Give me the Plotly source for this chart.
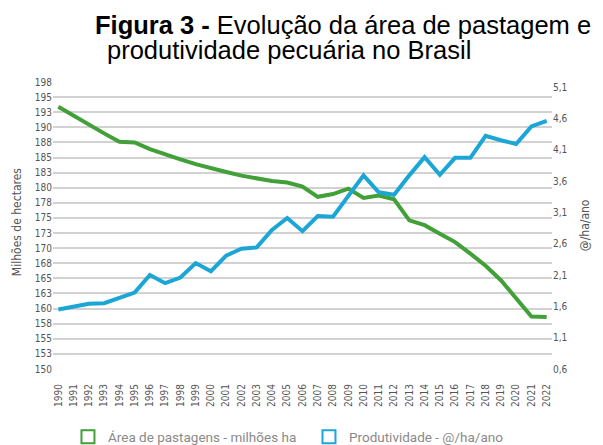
import plotly.graph_objects as go

years = [1990, 1991, 1992, 1993, 1994, 1995, 1996, 1997, 1998, 1999, 2000,
         2001, 2002, 2003, 2004, 2005, 2006, 2007, 2008, 2009, 2010, 2011,
         2012, 2013, 2014, 2015, 2016, 2017, 2018, 2019, 2020, 2021, 2022]
year_labels = [str(y) for y in years]

area = [193.4, 191.9, 190.4, 189.0, 187.6, 187.5, 186.4, 185.5, 184.7, 183.9, 183.2,
        182.6, 182.0, 181.5, 181.1, 180.85, 180.2, 178.5, 178.95, 179.85, 178.3, 178.7,
        178.1, 174.6, 173.8, 172.4, 171.0, 169.1, 167.1, 164.7, 161.6, 158.7, 158.6]

prod = [1.55, 1.60, 1.64, 1.65, 1.74, 1.82, 2.10, 1.97, 2.06, 2.29, 2.16,
        2.41, 2.52, 2.54, 2.82, 3.01, 2.80, 3.04, 3.03, 3.35, 3.69, 3.42,
        3.38, 3.69, 3.98, 3.70, 3.97, 3.97, 4.32, 4.25, 4.19, 4.47, 4.56]

left_tickvals = [150, 152.5, 155, 157.5, 160, 162.5, 165, 167.5, 170, 172.5,
                 175, 177.5, 180, 182.5, 185, 187.5, 190, 192.5, 195, 197.5]
left_ticktext = ["150", "153", "155", "158", "160", "163", "165", "168", "170", "173",
                 "175", "178", "180", "183", "185", "188", "190", "193", "195", "198"]

right_tickvals = [0.6, 1.1, 1.6, 2.1, 2.6, 3.1, 3.6, 4.1, 4.6, 5.1]
right_ticktext = ["0,6", "1,1", "1,6", "2,1", "2,6", "3,1", "3,6", "4,1", "4,6", "5,1"]

GREEN = "#41a037"
BLUE = "#1ba6d6"
COND = "DejaVu Sans Condensed, Liberation Sans Narrow, Roboto"
TICKFONT = dict(family=COND, size=10, color="#555555")

fig = go.Figure()
fig.add_trace(go.Scatter(x=years, y=area, mode="lines", line=dict(color=GREEN, width=4),
                         showlegend=False, yaxis="y"))
fig.add_trace(go.Scatter(x=years, y=prod, mode="lines", line=dict(color=BLUE, width=4),
                         showlegend=False, yaxis="y2"))
# legend entries
fig.add_trace(go.Scatter(x=[None], y=[None], mode="markers", name="Área de pastagens - milhões ha",
                         marker=dict(symbol="square-open", size=13, color=GREEN, line=dict(width=2))))
fig.add_trace(go.Scatter(x=[None], y=[None], mode="markers", name="Produtividade - @/ha/ano",
                         marker=dict(symbol="square-open", size=13, color=BLUE, line=dict(width=2))))

fig.update_layout(
    width=595, height=437,
    margin=dict(l=45, r=51, t=74, b=76, autoexpand=False),
    plot_bgcolor="white", paper_bgcolor="white",
    xaxis=dict(range=[1989.65, 2022.35], tickvals=years, ticktext=year_labels,
               tickangle=-90, tickfont=TICKFONT, showgrid=False, zeroline=False,
               showline=False, ticks="", ticklabelstandoff=12, automargin=False),
    yaxis=dict(range=[150, 197.5], tickvals=left_tickvals, ticktext=left_ticktext,
               tickfont=TICKFONT, showgrid=True, gridcolor="#d2d2d2", gridwidth=1.5,
               zeroline=False, showline=False, ticks="", automargin=False),
    yaxis2=dict(range=[0.6, 5.18], tickvals=right_tickvals, ticktext=right_ticktext,
                tickfont=TICKFONT, overlaying="y", side="right", showgrid=False,
                zeroline=False, showline=False, ticks="", automargin=False),
    legend=dict(orientation="h", x=0.030, y=-0.237, xanchor="left", yanchor="middle",
                font=dict(family="Roboto, Lato", size=13.5, color="#8a8a8a"),
                entrywidth=196, entrywidthmode="pixels", bgcolor="rgba(0,0,0,0)"),
    annotations=[
        dict(text="<b>Figura 3 -</b> Evolução da área de pastagem e", xref="paper", yref="paper",
             x=0.080, y=1.197, xanchor="left", yanchor="middle", showarrow=False,
             font=dict(family="Liberation Sans, Arial", size=25.5, color="#000000")),
        dict(text="produtividade pecuária no Brasil", xref="paper", yref="paper",
             x=0.104, y=1.112, xanchor="left", yanchor="middle", showarrow=False,
             font=dict(family="Liberation Sans, Arial", size=25.5, color="#000000")),
        dict(text="Milhões de hectares", xref="paper", yref="paper", x=-0.072, y=0.512,
             xanchor="center", yanchor="middle", textangle=-90, showarrow=False,
             font=dict(family=COND, size=12, color="#555555")),
        dict(text="@/ha/ano", xref="paper", yref="paper", x=1.066, y=0.501,
             xanchor="center", yanchor="middle", textangle=-90, showarrow=False,
             font=dict(family=COND, size=12, color="#555555")),
    ],
)

fig.write_html("out.html")
